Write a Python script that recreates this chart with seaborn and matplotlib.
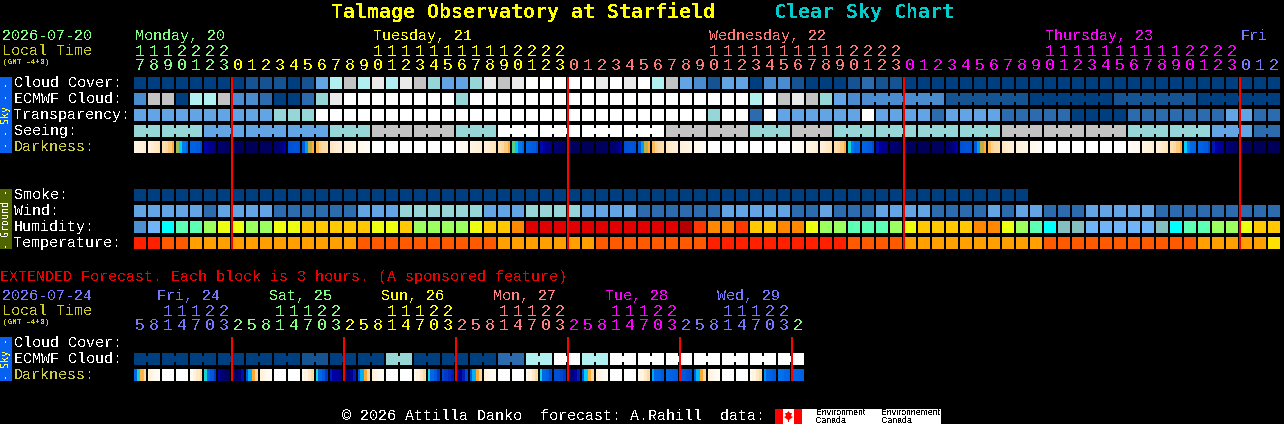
# Clear Sky Chart style forecast: one seaborn heatmap per row, text on a pixel overlay
import matplotlib.pyplot as plt
import numpy as np
import seaborn as sns
from matplotlib.colors import LinearSegmentedColormap, ListedColormap
from matplotlib.patches import Rectangle

WIDTH, HEIGHT = 1284, 424
MONO = "Liberation Mono"
TITLE_FONT = "DejaVu Sans Mono"

# shared blue-white ladder used by the sky rows and wind
sky_palette = ["#003F7F", "#155392", "#2C6CAE", "#4A8CCF", "#63A4E4",
               "#96D6D6", "#B0F0F0", "#C3C3C3", "#EAEAEA", "#FFFFFF"]
humidity_palette = ["#4F90D0", "#70B4F8", "#84BEBE", "#00FFFF", "#5CFFB4", "#9CFF60",
                    "#ECFF10", "#FFC800", "#FF8800", "#FF3800", "#E00000", "#B40000"]
temperature_palette = ["#FF2000", "#FF5A00", "#FFA000", "#FFE000"]
darkness_nodes = [(-4, "#FFFFFF"), (-3, "#FFFAF0"), (-2, "#FFEFD6"), (-1, "#FFD79C"), (0, "#FFA830"),
                  (0.4, "#C0B040"), (0.8, "#30D8A0"), (1.2, "#00D0FF"), (1.8, "#0090F0"), (2.2, "#0068E8"),
                  (3, "#0048D0"), (4, "#0000A8"), (5, "#00006C"), (6, "#000048")]

# hourly block, Monday 17h to Friday 2h
hours = [17, 18, 19, 20, 21, 22, 23,
         0, 1, 2, 3, 4, 5, 6, 7, 8, 9, 10, 11, 12, 13, 14, 15, 16, 17, 18, 19, 20, 21, 22, 23,
         0, 1, 2, 3, 4, 5, 6, 7, 8, 9, 10, 11, 12, 13, 14, 15, 16, 17, 18, 19, 20, 21, 22, 23,
         0, 1, 2, 3, 4, 5, 6, 7, 8, 9, 10, 11, 12, 13, 14, 15, 16, 17, 18, 19, 20, 21, 22, 23,
         0, 1, 2]
day_names = ["Monday, 20", "Tuesday, 21", "Wednesday, 22", "Thursday, 23", "Fri"]
day_starts = [0, 7, 31, 55, 79]
day_label_cells = [0, 17, 41, 65, 79]
day_colors = ["#80FF80", "#FFFF00", "#FF7878", "#FF00FF", "#7878FF"]

cloud_cover = [0, 0, 0, 0, 0, 0, 0, 0, 1, 1,
               1, 0, 1, 4, 6, 7, 6, 8, 6, 8,
               7, 5, 4, 4, 5, 8, 7, 8, 9, 9,
               9, 9, 9, 8, 9, 8, 9, 6, 7, 4,
               3, 1, 4, 4, 0, 3, 3, 1, 0, 0,
               0, 1, 2, 1, 1, 0, 0, 0, 0, 0,
               0, 0, 0, 0, 0, 0, 0, 0, 0, 0,
               0, 0, 0, 0, 0, 0, 0, 0, 0, 0,
               0, 0]
ecmwf_cloud = [3, 7, 7, 0, 6, 6, 7, 3, 3, 2,
               0, 0, 2, 5, 8, 9, 9, 9, 9, 9,
               9, 9, 9, 5, 9, 9, 9, 9, 9, 9,
               9, 9, 9, 9, 9, 9, 9, 9, 9, 9,
               9, 9, 9, 9, 6, 9, 7, 8, 7, 5,
               4, 3,
               3, 1, 0, 1, 0]
ecmwf_sizes = [1] * 52 + [6] * 5
transparency = [4, 4, 4, 4, 4, 4, 4, 4, 4, 4,
                5, 5, 5, 9, 9, 9, 9, 9, 9, 9,
                9, 9, 9, 9, 9, 9, 9, 9, 9, 9,
                9, 9, 9, 9, 9, 9, 9, 9, 9, 9,
                9, 5, 9, 9, 2, 9, 4, 4, 4, 4,
                4, 4, 9, 4, 4, 4, 4, 2, 4, 4,
                4, 4, 2, 2, 2, 2, 2, 0, 0, 0,
                0, 2, 2, 2, 2, 2, 2, 2, 4, 4,
                2, 2]
seeing = [5, 5, 4, 4, 4, 5, 7, 7, 5, 9, 9, 9, 9, 7, 7, 5, 7, 5, 5, 5, 5, 7, 7, 7, 5, 5, 4, 2]
seeing_sizes = [2] + [3] * 26 + [2]
# limiting magnitude estimate, four samples across each cell
darkness = [
    [-2.4, -2.3, -2.1, -1.9], [-2.2, -1.9, -1.7, -1.5], [-1.3, -1.1, -0.7, -0.1], [0.5, 1.2, 2.0, 2.2],
    [2.4, 2.4, 2.5, 2.9], [4.0, 4.3, 4.5, 4.7], [5.0, 5.1, 5.2, 5.2],
    [5.3, 5.4, 5.4, 5.4], [5.5, 5.5, 5.5, 5.5], [5.4, 5.4, 5.3, 5.2], [5.1, 5.0, 4.6, 4.0],
    [2.8, 2.7, 2.7, 2.8], [2.5, 1.7, 0.4, -0.1], [-0.4, -0.9, -1.1, -1.3], [-1.6, -1.8, -1.9, -2.0],
    [-2.2, -2.3, -2.4, -2.5], [-2.8, -3.0, -3.2, -3.4], [-4, -4, -4, -4], [-4, -4, -4, -4],
    [-4, -4, -4, -4], [-4, -4, -4, -4], [-4, -4, -4, -4], [-4, -4, -4, -4],
    [-3.4, -3.2, -3.0, -2.8], [-2.4, -2.3, -2.1, -1.9], [-2.1, -1.9, -1.7, -1.5], [-1.3, -1.1, -0.7, -0.1],
    [0.7, 1.3, 2.0, 2.2], [2.3, 2.4, 2.5, 2.9], [3.9, 4.2, 4.4, 4.6], [4.9, 5.0, 5.1, 5.2],
    [5.3, 5.4, 5.4, 5.4], [5.5, 5.5, 5.5, 5.5], [5.4, 5.4, 5.3, 5.2], [5.1, 5.0, 4.6, 4.0],
    [2.8, 2.7, 2.7, 2.8], [2.5, 1.7, 0.4, -0.1], [-0.4, -0.9, -1.1, -1.3], [-1.6, -1.8, -1.9, -2.0],
    [-2.2, -2.3, -2.4, -2.5], [-2.8, -3.0, -3.2, -3.4], [-4, -4, -4, -4], [-4, -4, -4, -4],
    [-4, -4, -4, -4], [-4, -4, -4, -4], [-4, -4, -4, -4], [-4, -4, -4, -4],
    [-3.4, -3.2, -3.0, -2.8], [-2.4, -2.3, -2.1, -1.9], [-2.1, -1.9, -1.7, -1.5], [-1.3, -1.1, -0.7, -0.1],
    [1.0, 2.0, 2.2, 2.2], [2.3, 2.4, 2.5, 2.9], [3.8, 4.1, 4.3, 4.6], [4.9, 5.0, 5.1, 5.2],
    [5.3, 5.4, 5.4, 5.4], [5.5, 5.5, 5.5, 5.5], [5.4, 5.4, 5.3, 5.2], [5.1, 5.0, 4.6, 4.0],
    [2.8, 2.7, 2.7, 2.8], [2.5, 1.7, 0.4, -0.1], [-0.4, -0.9, -1.1, -1.3], [-1.6, -1.8, -1.9, -2.0],
    [-2.2, -2.3, -2.4, -2.5], [-2.8, -3.0, -3.2, -3.4], [-4, -4, -4, -4], [-4, -4, -4, -4],
    [-4, -4, -4, -4], [-4, -4, -4, -4], [-4, -4, -4, -4], [-4, -4, -4, -4],
    [-3.4, -3.2, -3.0, -2.8], [-2.4, -2.3, -2.1, -1.9], [-2.1, -1.9, -1.7, -1.5], [-1.3, -1.1, -0.7, -0.1],
    [1.2, 2.0, 2.2, 2.3], [2.3, 2.4, 2.5, 3.0], [3.7, 4.0, 4.2, 4.5], [4.8, 5.0, 5.1, 5.2],
    [5.3, 5.4, 5.4, 5.4], [5.5, 5.5, 5.5, 5.5], [5.5, 5.5, 5.5, 5.5],
]
smoke = [0] * 64
wind = [4, 4, 4, 4, 4, 2, 4, 4, 4, 4,
        2, 2, 2, 2, 2, 2, 4, 4, 4, 5,
        5, 5, 5, 5, 5, 4, 4, 4, 5, 5,
        5, 5, 4, 4, 4, 4, 2, 2, 2, 2,
        2, 2, 4, 4, 4, 4, 4, 2, 2, 4,
        2, 2, 2, 4, 4, 4, 4, 2, 2, 2,
        2, 4, 2, 4, 4, 2, 2, 2, 4, 4,
        4, 4, 4, 2, 2, 2, 2, 2, 2, 2,
        2, 2]
humidity = [0, 1, 3, 4, 4, 5, 6, 6, 5, 5,
            6, 6, 7, 7, 7, 7, 7, 6, 6, 7,
            5, 5, 5, 5, 6, 7, 7, 8, 10, 10,
            10, 10, 10, 10, 10, 10, 10, 10, 10, 11,
            9, 8, 8, 9, 7, 7, 8, 8, 6, 5,
            5, 4, 4, 4, 5, 6, 7, 7, 7, 7,
            8, 8, 6, 5, 4, 3, 2, 2, 1, 1,
            1, 1, 1, 2, 3, 4, 4, 5, 5, 6,
            7, 7]
temperature = [0, 0, 1, 1, 2, 2, 2, 2, 2, 2,
               2, 2, 2, 2, 2, 2, 1, 1, 1, 1,
               1, 1, 1, 1, 1, 1, 2, 2, 2, 2,
               2, 2, 2, 1, 1, 1, 1, 1, 1, 1,
               1, 0, 0, 0, 0, 0, 0, 0, 0, 0,
               0, 1, 1, 1, 1, 2, 2, 2, 2, 2,
               2, 2, 2, 2, 2, 1, 1, 1, 1, 1,
               1, 1, 1, 1, 1, 1, 2, 2, 2, 2,
               2, 3]

# extended block, one cell is 3 hours
ext_hours = [5, 8, 11, 14, 17, 20, 23,
             2, 5, 8, 11, 14, 17, 20, 23,
             2, 5, 8, 11, 14, 17, 20, 23,
             2, 5, 8, 11, 14, 17, 20, 23,
             2, 5, 8, 11, 14, 17, 20, 23,
             2, 5, 8, 11, 14, 17, 20, 23,
             2]
ext_day_names = ["Fri, 24", "Sat, 25", "Sun, 26", "Mon, 27", "Tue, 28", "Wed, 29"]
ext_day_starts = [0, 7, 15, 23, 31, 39, 47]
ext_day_label_cells = [0, 8, 16, 24, 32, 40]
ext_day_colors = ["#7878FF", "#80FF80", "#FFFF00", "#FF8080", "#FF00FF", "#7878FF", "#80FF80"]
ext_ecmwf = [0, 0, 0, 0, 0, 0, 1, 0, 0, 5, 0, 0, 0, 2, 6, 9, 6, 9, 9, 9, 9, 9, 9, 9]
ext_ecmwf_sizes = [2] * 24
ext_darkness = [
    [2.2, 1.0, -0.2, -1.2], [-2.2, -2.6, -3.0, -3.4], [-4, -4, -4, -4], [-4, -4, -4, -4],
    [-3.0, -2.4, -1.7, -1.1], [1.0, 2.2, 2.6, 3.2], [4.2, 4.8, 5.2, 5.4], [5.3, 5.2, 4.8, 3.8],
    [2.6, 1.5, 0.0, -1.0], [-2.2, -2.6, -3.0, -3.4], [-4, -4, -4, -4], [-4, -4, -4, -4],
    [-3.0, -2.4, -1.7, -1.1], [1.0, 2.2, 2.6, 3.2], [3.6, 4.0, 4.2, 4.4], [5.2, 5.0, 4.4, 3.6],
    [2.6, 1.5, 0.0, -1.0], [-2.2, -2.6, -3.0, -3.4], [-4, -4, -4, -4], [-4, -4, -4, -4],
    [-3.0, -2.4, -1.7, -1.1], [1.0, 2.2, 2.6, 3.2], [3.0, 3.2, 3.4, 3.6], [4.0, 4.4, 3.6, 3.0],
    [2.6, 1.5, 0.0, -1.0], [-2.2, -2.6, -3.0, -3.4], [-4, -4, -4, -4], [-4, -4, -4, -4],
    [-3.0, -2.4, -1.7, -1.1], [1.0, 2.2, 2.4, 3.0], [2.8, 2.8, 3.0, 3.2], [4.4, 4.8, 4.2, 3.6],
    [2.6, 1.2, -0.1, -1.0], [-2.2, -2.6, -3.0, -3.4], [-4, -4, -4, -4], [-4, -4, -4, -4],
    [-3.0, -2.4, -1.7, -1.1], [1.6, 2.2, 2.3, 2.6], [2.2, 2.3, 2.4, 2.5], [2.5, 2.6, 2.8, 2.9],
    [2.4, 1.4, 0.0, -1.0], [-2.2, -2.6, -3.0, -3.4], [-4, -4, -4, -4], [-4, -4, -4, -4],
    [-3.0, -2.4, -1.7, -1.1], [1.8, 2.2, 2.4, 2.6], [2.1, 2.1, 2.2, 2.3], [2.2, 2.2, 2.3, 2.4],
]

# layout in image pixels
X0 = 134
PITCH = 14
CELL = 12

plt.rcParams["text.antialiased"] = False
plt.rcParams["font.family"] = [MONO, "DejaVu Sans"]

fig = plt.figure(figsize=(WIDTH / 100, HEIGHT / 100), dpi=100, facecolor="black")


def row_axes(top, n_cells):
    ax = fig.add_axes([(X0 - 1) / WIDTH, 1 - (top + CELL) / HEIGHT, n_cells * PITCH / WIDTH, CELL / HEIGHT])
    return ax


def draw_row(values, top, palette, n_cells=82, sizes=None):
    """Categorical row. sizes groups cells into joined blocks with a narrow neck between them."""
    cells = np.repeat(values, sizes) if sizes else np.array(values)
    data = np.full((1, n_cells), np.nan)
    data[0, :len(cells)] = cells
    ax = row_axes(top, n_cells)
    sns.heatmap(data, ax=ax, cmap=ListedColormap(palette), vmin=-0.5, vmax=len(palette) - 0.5,
                cbar=False, xticklabels=False, yticklabels=False)
    ax.vlines(np.arange(n_cells + 1), 0, 1, color="black", lw=1.44)
    if sizes:
        edge = 0
        for value, size in zip(values, sizes):
            if size > 1:
                ax.vlines(np.arange(edge + 1, edge + size), 0.25, 0.75, color=palette[value], lw=1.44, zorder=3)
            edge += size
    ax.set_axis_off()


def draw_darkness(samples, top):
    n_cells = len(samples)
    vmin, vmax = darkness_nodes[0][0], darkness_nodes[-1][0]
    cmap = LinearSegmentedColormap.from_list(
        "darkness", [((v - vmin) / (vmax - vmin), c) for v, c in darkness_nodes], N=512)
    ax = row_axes(top, n_cells)
    sns.heatmap(np.array(samples).reshape(1, -1), ax=ax, cmap=cmap, vmin=vmin, vmax=vmax,
                cbar=False, xticklabels=False, yticklabels=False)
    ax.vlines(np.arange(n_cells + 1) * 4, 0, 1, color="black", lw=1.44)
    ax.set_axis_off()


draw_row(cloud_cover, 77, sky_palette)
draw_row(ecmwf_cloud, 93, sky_palette, sizes=ecmwf_sizes)
draw_row(transparency, 109, sky_palette)
draw_row(seeing, 125, sky_palette, sizes=seeing_sizes)
draw_darkness(darkness, 141)
draw_row(smoke, 189, sky_palette)
draw_row(wind, 205, sky_palette)
draw_row(humidity, 221, humidity_palette)
draw_row(temperature, 237, temperature_palette)
draw_row(ext_ecmwf, 353, sky_palette, n_cells=48, sizes=ext_ecmwf_sizes)
draw_darkness(ext_darkness, 369)

# overlay in pixel coordinates for text, side bars and midnight lines
ov = fig.add_axes([0, 0, 1, 1], zorder=10)
ov.set_xlim(0, WIDTH)
ov.set_ylim(HEIGHT, 0)
ov.set_axis_off()
ov.patch.set_visible(False)


def label(x, y, s, color="white", size=10.8, family=MONO, **kw):
    ov.text(x, y + 1, s, color=color, fontsize=size, family=family, va="center", ha=kw.pop("ha", "left"), **kw)


def hour_labels(hour_list, starts, colors, tens_y, units_y):
    for k, hour in enumerate(hour_list):
        color = colors[np.searchsorted(starts, k, side="right") - 1]
        cx = X0 + PITCH * k + CELL / 2
        if hour >= 10:
            label(cx, tens_y, str(hour // 10), color, size=12, ha="center")
        label(cx, units_y, str(hour % 10), color, size=12, ha="center")


label(331, 11, "Talmage Observatory at Starfield", "#FFFF00", size=14.4, family=TITLE_FONT, fontweight="bold")
label(774, 11, "Clear Sky Chart", "#00CCCC", size=14.4, family=TITLE_FONT, fontweight="bold")

label(2, 35, "2026-07-20", "#80FF80")
label(2, 50, "Local Time", "#CCCC22")
label(3, 62, "(GMT -4+0)", "#CCCC22", size=5.6)
for name, cell, color in zip(day_names, day_label_cells, day_colors):
    label(X0 + PITCH * cell + 1, 35, name, color)
hour_labels(hours, day_starts, day_colors, 50, 65)

for text, y in [("Cloud Cover:", 82), ("ECMWF Cloud:", 98), ("Transparency:", 114), ("Seeing:", 130),
                ("Smoke:", 194), ("Wind:", 210), ("Humidity:", 226), ("Temperature:", 242)]:
    label(14, y, text)
label(14, 146, "Darkness:", "#CCCC44")

label(0, 276, "EXTENDED Forecast. Each block is 3 hours. (A sponsored feature)", "#EE0000")
label(2, 295, "2026-07-24", "#7878FF")
label(2, 310, "Local Time", "#CCCC22")
label(3, 322, "(GMT -4+0)", "#CCCC22", size=5.6)
for name, cell, color in zip(ext_day_names, ext_day_label_cells, ext_day_colors):
    label(X0 + PITCH * cell + 23, 295, name, color)
hour_labels(ext_hours, ext_day_starts, ext_day_colors, 310, 325)
label(14, 342, "Cloud Cover:")
label(14, 358, "ECMWF Cloud:")
label(14, 374, "Darkness:", "#CCCC44")

# side bars
for y0, y1, color, text, text_color in [(77, 153, "#0860F0", "- - Sky - -", "#FFFF40"),
                                        (189, 249, "#4F6600", "- Ground -", "white"),
                                        (337, 381, "#0860F0", "- Sky -", "#FFFF40")]:
    ov.add_patch(Rectangle((0, y0), 12, y1 - y0, facecolor=color, edgecolor="none"))
    label(6, (y0 + y1) / 2 - 1, text, text_color, size=7.2, family="DejaVu Sans Mono", rotation=90, ha="center")

# midnight lines
ov.vlines([X0 + PITCH * k for k in day_starts[1:]], 77, 249, color="#FF0000", lw=1.44)
ov.vlines([X0 + PITCH * k for k in ext_day_starts[1:]], 337, 381, color="#FF0000", lw=1.44)

# footer with data credit
label(342, 415, "\u00a9 2026 Attilla Danko  forecast: A.Rahill  data:")
ov.add_patch(Rectangle((775, 409), 166, 15, facecolor="white", edgecolor="none"))
ov.add_patch(Rectangle((775, 409), 8, 15, facecolor="#FF0000", edgecolor="none"))
ov.add_patch(Rectangle((794, 409), 8, 15, facecolor="#FF0000", edgecolor="none"))
ov.fill([788.5, 790, 792, 791, 793, 789, 789, 788, 788, 784, 786, 785, 787],
        [411, 413, 413, 416, 417, 420, 422, 422, 420, 417, 416, 413, 413], color="#FF0000", lw=0)
for x, top_word in [(816, "Environment"), (881, "Environnement")]:
    ov.text(x, 412.5, top_word, color="black", fontsize=6.3, family="Liberation Sans", va="center")
    ov.text(x, 420.5, "Canada", color="black", fontsize=6.3, family="Liberation Sans", va="center")

fig.savefig("out.png", dpi=100, facecolor="black")
